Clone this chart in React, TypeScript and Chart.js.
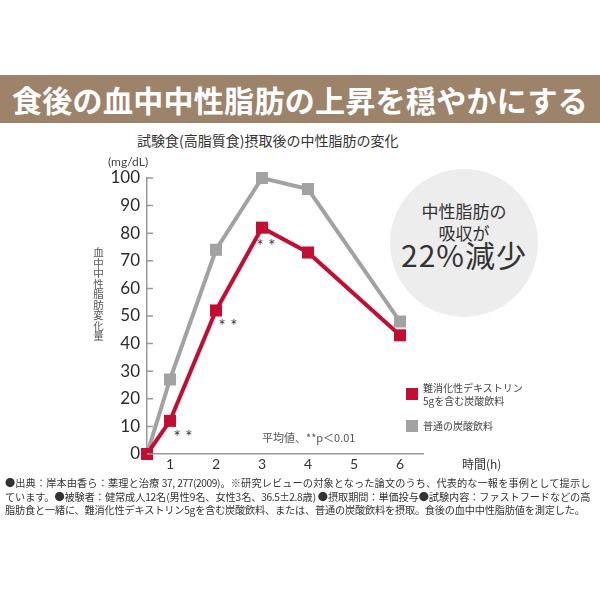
import { useEffect, useRef } from 'react';
import Chart from 'chart.js/auto';

// time after the test meal (h); the baseline sits at the axis origin
const timePoints = [0.5, 1, 2, 3, 4, 6];
const xTickValues = [1, 2, 3, 4, 5, 6];
const yTickValues = [0, 10, 20, 30, 40, 50, 60, 70, 80, 90, 100];

const fiberDrink = [0, 12, 52, 82, 73, 43];
const plainDrink = [0, 27, 74, 100, 96, 48];
const significant = [false, true, true, true, false, false];

const fiberLabel = ['難消化性デキストリン', '5gを含む炭酸飲料'];
const plainLabel = '普通の炭酸飲料';

const footnotes = [
  '●出典：岸本由香ら：薬理と治療 37, 277(2009)。※研究レビューの対象となった論文のうち、代表的な一報を事例として提示し',
  'ています。●被験者：健常成人12名(男性9名、女性3名、36.5±2.8歳) ●摂取期間：単価投与●試験内容：ファストフードなどの高',
  '脂肪食と一緒に、難消化性デキストリン5gを含む炭酸飲料、または、普通の炭酸飲料を摂取。食後の血中中性脂肪値を測定した。',
];

const RED = '#c30d32';
const GRAY = '#a2a2a2';
const AXIS = '#9a9a9a';
const JP = '"Noto Sans CJK JP", "Noto Sans", sans-serif';
const NUM = 'Lato, "Noto Sans", sans-serif';

const overlayPlugin = {
  id: 'overlay',
  afterDatasetsDraw(chart: any) {
    const { ctx, scales } = chart;
    const x = scales.x;
    const y = scales.y;
    ctx.save();
    // inward tick marks on the y axis
    ctx.strokeStyle = AXIS;
    ctx.lineWidth = 1.5;
    ctx.beginPath();
    yTickValues.forEach(v => {
      const py = y.getPixelForValue(v);
      ctx.moveTo(x.left, py);
      ctx.lineTo(x.left + 6, py);
    });
    ctx.stroke();
    // significance marks
    const offsets: Record<number, [number, number]> = { 1: [13, 17], 2: [12, 16], 3: [4, 19] };
    ctx.fillStyle = '#333';
    ctx.font = `17px ${NUM}`;
    ctx.textAlign = 'center';
    ctx.textBaseline = 'middle';
    significant.forEach((s, i) => {
      if (!s) return;
      const [dx, dy] = offsets[i] || [10, 15];
      ctx.fillText('* *', x.getPixelForValue(timePoints[i]) + dx, y.getPixelForValue(fiberDrink[i]) + dy);
    });
    ctx.restore();
  },
};

const TriglycerideChart = () => {
  const chartRef = useRef<HTMLCanvasElement>(null);
  const chartInstance = useRef<Chart | null>(null);

  useEffect(() => {
    if (!chartRef.current) return;
    if (chartInstance.current) chartInstance.current.destroy();

    chartInstance.current = new Chart(chartRef.current, {
      type: 'line',
      data: {
        datasets: [
          {
            label: fiberLabel.join(''),
            data: timePoints.map((t, i) => ({ x: t, y: fiberDrink[i] })),
            borderColor: RED,
            backgroundColor: RED,
            borderWidth: 4,
            pointStyle: 'rect',
            pointRadius: 8.5,
            pointBorderWidth: 0,
            order: 0,
            clip: false as any,
          },
          {
            label: plainLabel,
            data: timePoints.map((t, i) => ({ x: t, y: plainDrink[i] })),
            borderColor: GRAY,
            backgroundColor: GRAY,
            borderWidth: 4,
            pointStyle: 'rect',
            pointRadius: 8.5,
            pointBorderWidth: 0,
            order: 1,
            clip: false as any,
          },
        ],
      },
      options: {
        responsive: false,
        animation: false,
        devicePixelRatio: 1,
        layout: { padding: { left: 87, top: 178, right: 177, bottom: 126 } },
        plugins: { legend: { display: false }, tooltip: { enabled: false }, title: { display: false } },
        scales: {
          x: {
            type: 'linear',
            min: 0.5,
            max: 6.5,
            afterBuildTicks: (scale: any) => {
              scale.ticks = xTickValues.map(v => ({ value: v }));
            },
            afterFit: (scale: any) => {
              scale.height = 20;
              scale.paddingLeft = 0;
              scale.paddingRight = 0;
            },
            grid: { display: false, drawTicks: false },
            border: { display: true, color: AXIS, width: 1.5 },
            ticks: { color: '#333', font: { size: 14, family: NUM }, padding: 2, maxRotation: 0 },
          },
          y: {
            min: 0,
            max: 100,
            afterBuildTicks: (scale: any) => {
              scale.ticks = yTickValues.map(v => ({ value: v }));
            },
            afterFit: (scale: any) => {
              scale.width = 60;
              scale.paddingTop = 0;
              scale.paddingBottom = 0;
            },
            grid: { drawOnChartArea: false, drawTicks: false },
            border: { display: true, color: AXIS, width: 1.5 },
            ticks: { color: '#2a2a2a', font: { size: 17, family: NUM }, padding: 7 },
          },
        },
      },
      plugins: [overlayPlugin],
    });

    return () => {
      if (chartInstance.current) {
        chartInstance.current.destroy();
        chartInstance.current = null;
      }
    };
  }, []);

  return <canvas ref={chartRef} width={600} height={600} style={{ position: 'absolute', left: 0, top: 0 }} />;
};

const abs = (left: number, top: number, extra: any = {}) => ({
  position: 'absolute' as const,
  left,
  top,
  whiteSpace: 'nowrap' as const,
  fontFamily: JP,
  ...extra,
});

export default function App() {
  return (
    <div style={{ position: 'absolute', left: 0, top: 0, width: 600, height: 600, background: '#fff', overflow: 'hidden' }}>
      <div
        style={{
          position: 'absolute', left: 0, top: 75, width: 600, height: 48, background: '#9e836b',
          color: '#fff', fontFamily: JP, fontWeight: 700, fontSize: 30, lineHeight: '48px',
          textAlign: 'center', letterSpacing: 0.3,
        }}
      >
        食後の血中中性脂肪の上昇を穏やかにする
      </div>
      <div style={abs(137, 130, { fontSize: 14, color: '#333', lineHeight: '20px' })}>
        試験食(高脂質食)摂取後の中性脂肪の変化
      </div>
      <div style={{ position: 'absolute', left: 390, top: 169, width: 148, height: 148, borderRadius: '50%', background: '#ededed' }} />
      <div style={abs(390, 200, { width: 148, textAlign: 'center', color: '#333', fontSize: 17, lineHeight: '22px' })}>
        中性脂肪の<br />吸収が
      </div>
      <div style={abs(390, 236, { width: 148, textAlign: 'center', color: '#333', fontSize: 30, lineHeight: '36px', letterSpacing: 1 })}>
        22%減少
      </div>
      <TriglycerideChart />
      <div style={abs(108, 154, { fontSize: 12, color: '#444', fontFamily: NUM, lineHeight: '16px' })}>(mg/dL)</div>
      <div style={abs(92, 247, { fontSize: 10.5, color: '#555', writingMode: 'vertical-rl', lineHeight: '12px' })}>
        血中中性脂肪変化量
      </div>
      <div style={abs(262, 429, { fontSize: 11, color: '#555', lineHeight: '16px' })}>平均値、**p＜0.01</div>
      <div style={abs(462, 456, { fontSize: 12, color: '#333', lineHeight: '16px' })}>時間(h)</div>
      <div style={{ position: 'absolute', left: 406, top: 388, width: 12, height: 12, background: RED }} />
      <div style={abs(423, 381, { fontSize: 10, color: '#444', lineHeight: '13px' })}>
        {fiberLabel[0]}<br />{fiberLabel[1]}
      </div>
      <div style={{ position: 'absolute', left: 406, top: 420, width: 12, height: 12, background: GRAY }} />
      <div style={abs(423, 419, { fontSize: 10, color: '#444', lineHeight: '13px' })}>{plainLabel}</div>
      {footnotes.map((line, i) => (
        <div
          key={i}
          style={{
            position: 'absolute', left: 5, top: 476 + i * 13.7, width: 585, overflow: 'hidden',
            fontFamily: JP, fontSize: 10.2, color: '#333', lineHeight: '13.7px', whiteSpace: 'nowrap',
            letterSpacing: i < 2 ? -0.4 : -0.2, textAlign: i < 2 ? 'justify' : 'left', textAlignLast: i < 2 ? 'justify' : 'left',
          }}
        >
          {line}
        </div>
      ))}
    </div>
  );
}
